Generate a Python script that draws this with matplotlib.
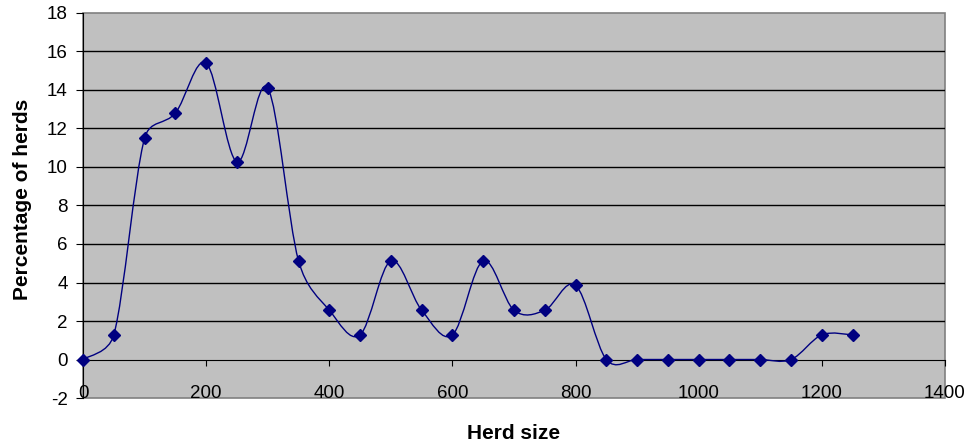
import numpy as np
import matplotlib.pyplot as plt
from matplotlib.path import Path
from matplotlib.patches import PathPatch, Rectangle

plt.rcParams['font.family'] = ['Liberation Sans', 'DejaVu Sans']
plt.rcParams['axes.unicode_minus'] = False

herd_size = [0, 50, 100, 150, 200, 250, 300, 350, 400, 450, 500, 550, 600, 650,
             700, 750, 800, 850, 900, 950, 1000, 1050, 1100, 1150, 1200, 1250]
pct_herds = [0, 1.28, 11.5, 12.8, 15.4, 10.26, 14.1, 5.13, 2.56, 1.28, 5.13, 2.56,
             1.28, 5.13, 2.56, 2.56, 3.85, 0, 0, 0, 0, 0, 0, 0, 1.28, 1.28]
x_ticks = [0, 200, 400, 600, 800, 1000, 1200, 1400]
y_ticks = [-2, 0, 2, 4, 6, 8, 10, 12, 14, 16, 18]

line_col = '#000080'
bg_col = '#c0c0c0'


def smooth_path(ax, xs, ys, cap=0.5):
    # Excel-like smoothed line, worked out in screen space then mapped back to data
    pts = ax.transData.transform(np.column_stack([xs, ys]))
    n = len(pts)
    verts = [pts[0]]
    codes = [Path.MOVETO]
    for i in range(n - 1):
        a, b = pts[i], pts[i + 1]
        seg = np.hypot(*(b - a))
        t1 = (pts[i + 1] - pts[max(i - 1, 0)]) / 6
        t2 = (pts[min(i + 2, n - 1)] - pts[i]) / 6
        for t in (t1, t2):
            ln = np.hypot(*t)
            if ln > cap * seg and ln > 0:
                t *= cap * seg / ln
        verts += [a + t1, b - t2, b]
        codes += [Path.CURVE4] * 3
    verts = ax.transData.inverted().transform(np.array(verts))
    return Path(verts, codes)


fig = plt.figure(figsize=(9.7, 4.46), dpi=100)
ax = fig.add_axes([0.0856, 0.1076, 0.8886, 0.8633])
ax.set_facecolor(bg_col)
ax.set_xlim(0, 1400)
ax.set_ylim(-2, 18)

for y in y_ticks[2:-1]:
    ax.axhline(y, color='black', lw=1, zorder=1)

# plot area border
ax.add_patch(Rectangle((0, 0), 1, 1, transform=ax.transAxes, fill=False,
                       edgecolor='#808080', lw=1.2, zorder=0.5, clip_on=False))

ax.add_patch(PathPatch(smooth_path(ax, herd_size, pct_herds), fill=False,
                       edgecolor=line_col, lw=1, zorder=3))
ax.plot(herd_size, pct_herds, linestyle='none', marker='D', markersize=6.5,
        color=line_col, zorder=4, clip_on=False)

ax.spines['bottom'].set_position(('data', 0))
ax.spines['bottom'].set_color('black')
ax.spines['left'].set_color('black')
ax.spines['top'].set_visible(False)
ax.spines['right'].set_visible(False)

ax.set_xticks(x_ticks)
ax.set_yticks(y_ticks)
ax.tick_params(axis='x', direction='out', length=4, pad=14, labelsize=13.5)
ax.tick_params(axis='y', direction='out', length=5, pad=6, labelsize=13.5)

fig.text(0.023, 0.552, 'Percentage of herds', fontsize=15, fontweight='bold',
         rotation=90, ha='center', va='center')
fig.text(0.529, 0.029, 'Herd size', fontsize=15, fontweight='bold', ha='center', va='center')

fig.savefig('out.png', dpi=100)
